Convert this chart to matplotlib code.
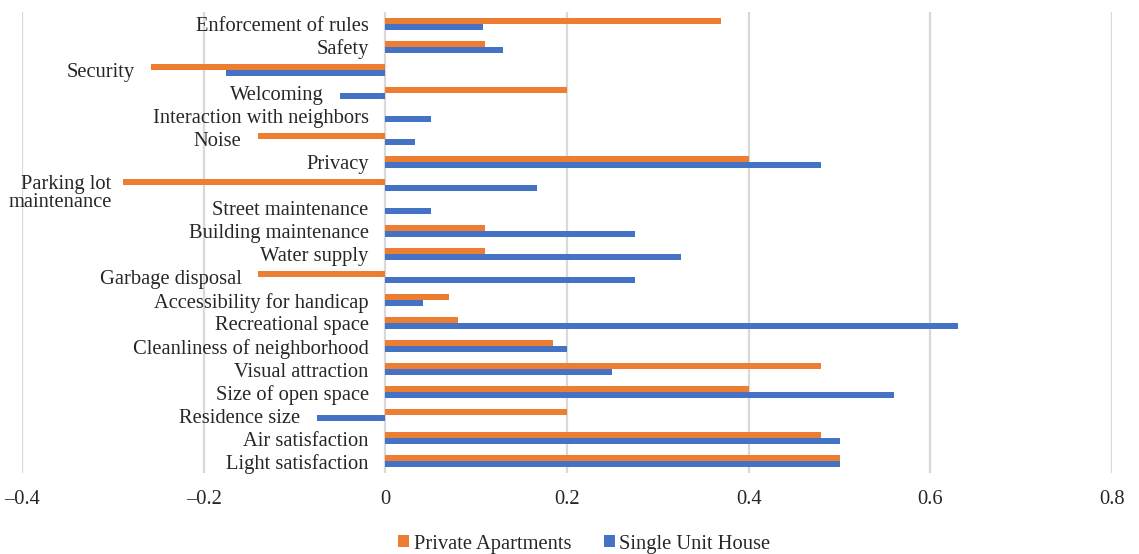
import matplotlib
matplotlib.use("Agg")
import matplotlib.pyplot as plt
import numpy as np
from matplotlib.ticker import FixedLocator, FuncFormatter

# Categories listed top to bottom
categories = [
    "Enforcement of rules", "Safety", "Security", "Welcoming",
    "Interaction with neighbors", "Noise", "Privacy", "Parking lot\nmaintenance",
    "Street maintenance", "Building maintenance", "Water supply", "Garbage disposal",
    "Accessibility for handicap", "Recreational space", "Cleanliness of neighborhood",
    "Visual attraction", "Size of open space", "Residence size", "Air satisfaction",
    "Light satisfaction",
]
private_apartments = [0.37, 0.11, -0.258, 0.20, 0.0, -0.14, 0.40, -0.289,
                      0.0, 0.11, 0.11, -0.14, 0.07, 0.08, 0.185,
                      0.48, 0.40, 0.20, 0.48, 0.50]
single_unit_house = [0.108, 0.13, -0.175, -0.05, 0.05, 0.033, 0.48, 0.167,
                     0.05, 0.275, 0.326, 0.275, 0.042, 0.63, 0.20,
                     0.25, 0.56, -0.075, 0.50, 0.50]
x_ticks = [-0.4, -0.2, 0.0, 0.2, 0.4, 0.6, 0.8]
series_names = ["Private Apartments", "Single Unit House"]

ORANGE = "#ED7D31"
BLUE = "#4472C4"
GRID = "#D9D9D9"
FONT = "Liberation Serif"
FS = 14.8

plt.rcParams["font.family"] = [FONT, "DejaVu Serif"]

fig = plt.figure(figsize=(11.39, 5.54), dpi=100)
ax = fig.add_axes([22 / 1139, 1 - 473 / 554, (1112 - 22) / 1139, (473 - 12) / 554])

n = len(categories)
y = np.arange(n)
h = 0.26
ax.barh(y - h / 2, private_apartments, height=h, color=ORANGE, label=series_names[0], zorder=3)
ax.barh(y + h / 2, single_unit_house, height=h, color=BLUE, label=series_names[1], zorder=3)

ax.set_xlim(-0.4, 0.8)
ax.set_ylim(n - 0.5, -0.5)

ax.xaxis.set_major_locator(FixedLocator(x_ticks))
ax.xaxis.set_major_formatter(FuncFormatter(
    lambda v, p: "0" if abs(v) < 1e-9 else f"{v:.1f}".replace("-", "\u2013")))
ax.tick_params(axis="x", length=0, pad=12, labelsize=FS, labelcolor="#262626")
ax.set_yticks([])
ax.grid(axis="x", color=GRID, linewidth=1.6, zorder=0)
ax.set_axisbelow(True)
for s in ax.spines.values():
    s.set_visible(False)

# Category labels sit just left of zero, or left of any negative bar
for i, name in enumerate(categories):
    left = min(0.0, private_apartments[i], single_unit_house[i])
    multi = "\n" in name
    dy = -6 if multi else -2
    dx = -8 if multi else -12
    ax.annotate(name, xy=(left, i), xytext=(dx, dy), textcoords="offset points",
                ha="right", va="center", fontsize=FS, color="#262626",
                linespacing=0.9, zorder=4)

leg = fig.legend(loc="center", bbox_to_anchor=(0.513, 1 - 544 / 554), ncol=2,
                 frameon=False, fontsize=FS, handlelength=0.55, handleheight=0.55,
                 handletextpad=0.2, columnspacing=1.6)
for t in leg.get_texts():
    t.set_color("#262626")

fig.savefig("out.png", dpi=100)
